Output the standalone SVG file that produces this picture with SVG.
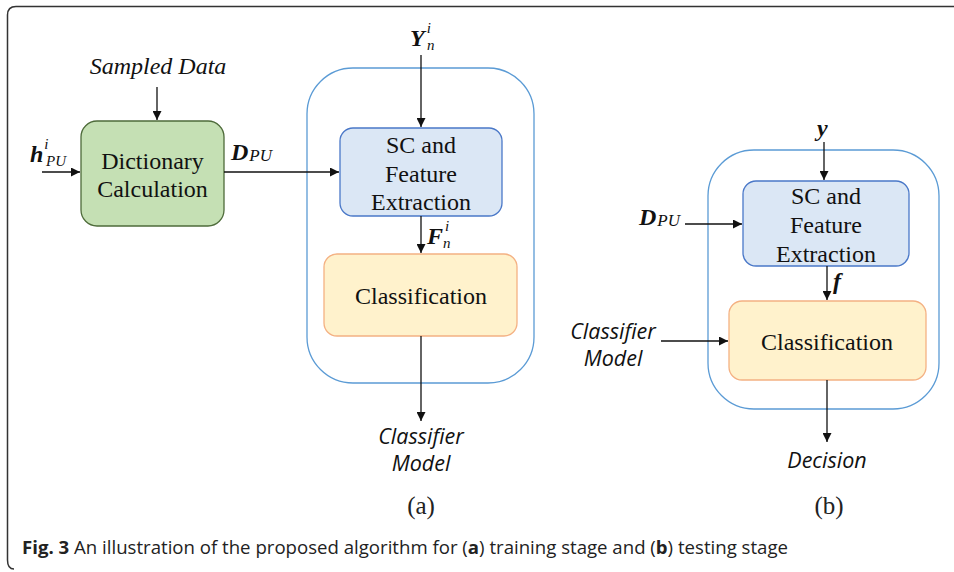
<svg xmlns="http://www.w3.org/2000/svg" width="954" height="572" viewBox="0 0 954 572">
  <style>
    .frame { fill: none; stroke: #333; stroke-width: 1.5; }
    .group { fill: none; stroke: #5b9bd5; stroke-width: 1.3; }
    .dict { fill: #c5e0b4; stroke: #4e6b3a; stroke-width: 1.3; }
    .sc { fill: #dbe7f5; stroke: #4a78c8; stroke-width: 1.3; }
    .cls { fill: #fff2cc; stroke: #f4b183; stroke-width: 1.3; }
    .box { font-family: "Liberation Serif", "Times New Roman", serif; font-size: 24px; fill: #111; text-anchor: middle; }
    .it { font-family: "Liberation Serif", "Times New Roman", serif; font-size: 24px; font-style: italic; fill: #111; text-anchor: middle; }
    .math { font-family: "Liberation Serif", "Times New Roman", serif; font-size: 24px; font-style: italic; font-weight: bold; fill: #111; }
    .s { font-size: 17px; font-weight: normal; }
    .t { font-size: 15px; font-weight: normal; }
    .lab { font-family: "Open Sans", "Liberation Sans", sans-serif; font-size: 21.5px; font-style: italic; fill: #111; text-anchor: middle; }
    .tag { font-family: "Liberation Serif", "Times New Roman", serif; font-size: 25px; fill: #222; text-anchor: middle; }
    .cap { font-family: "Open Sans", "Liberation Sans", sans-serif; font-size: 17.5px; fill: #222; }
    .conn { stroke: #111; stroke-width: 1.3; fill: none; marker-end: url(#arrow); }
  </style>
  <defs>
    <marker id="arrow" viewBox="0 0 10 10" refX="10" refY="5" markerWidth="9" markerHeight="9" markerUnits="userSpaceOnUse" orient="auto">
      <path d="M0,0 L10,5 L0,10 z" fill="#111"/>
    </marker>
  </defs>

  <!-- figure frame: top and left edges only -->
  <path class="frame" d="M954,6.5 H16 Q7.5,6.5 7.5,15 V560 Q7.5,569 14,569"/>

  <!-- (a) training stage -->
  <rect id="groupA" class="group" x="307" y="68" width="227" height="315" rx="46"/>

  <g id="dictionary">
    <rect class="dict" x="81" y="121" width="143" height="105" rx="16"/>
    <text class="box" x="152.5" y="169">Dictionary</text>
    <text class="box" x="152.5" y="197">Calculation</text>
  </g>

  <g id="scA">
    <rect class="sc" x="340" y="128" width="162" height="88" rx="13"/>
    <text class="box" x="421" y="153">SC and</text>
    <text class="box" x="421" y="182">Feature</text>
    <text class="box" x="421" y="210">Extraction</text>
  </g>

  <g id="classA">
    <rect class="cls" x="324" y="254" width="193" height="82" rx="13"/>
    <text class="box" x="421" y="304">Classification</text>
  </g>

  <!-- (b) testing stage -->
  <rect id="groupB" class="group" x="708" y="150" width="231" height="259" rx="46"/>

  <g id="scB">
    <rect class="sc" x="743" y="181" width="166" height="85" rx="13"/>
    <text class="box" x="826" y="204">SC and</text>
    <text class="box" x="826" y="233">Feature</text>
    <text class="box" x="826" y="262">Extraction</text>
  </g>

  <g id="classB">
    <rect class="cls" x="729" y="301" width="197" height="79" rx="13"/>
    <text class="box" x="827" y="350">Classification</text>
  </g>

  <!-- connectors -->
  <g id="connectors">
    <path class="conn" d="M157,87 V120"/>
    <path class="conn" d="M42,172 H80"/>
    <path class="conn" d="M224,172 H339"/>
    <path class="conn" d="M421,55 V127"/>
    <path class="conn" d="M421,216 V253"/>
    <path class="conn" d="M421,336 V421"/>
    <path class="conn" d="M824,142 V180"/>
    <path class="conn" d="M685,224 H742"/>
    <path class="conn" d="M827,266 V300"/>
    <path class="conn" d="M661,341 H728"/>
    <path class="conn" d="M827,380 V442"/>
  </g>

  <!-- labels (a) -->
  <text class="it" x="158" y="74">Sampled Data</text>
  <text class="math" x="30" y="162">h<tspan class="t" dx="1" dy="-13">i</tspan><tspan class="t" x="46" dy="17">PU</tspan></text>
  <text class="math" x="231" y="160">D<tspan class="s" dx="1" dy="1">PU</tspan></text>
  <text class="math" x="410" y="46">Y<tspan class="t" dx="2" dy="-13">i</tspan><tspan class="t" x="427" dy="17">n</tspan></text>
  <text class="math" x="427" y="244">F<tspan class="t" dx="2" dy="-13">i</tspan><tspan class="t" x="443" dy="17">n</tspan></text>
  <text class="lab" x="421" y="444">Classifier</text>
  <text class="lab" x="421" y="471">Model</text>
  <text class="tag" x="421" y="514">(a)</text>

  <!-- labels (b) -->
  <text class="math" x="817" y="136">y</text>
  <text class="math" x="639" y="225">D<tspan class="s" dx="1" dy="1">PU</tspan></text>
  <text class="math" x="833" y="289">f</text>
  <text class="lab" x="613" y="339">Classifier</text>
  <text class="lab" x="613" y="366">Model</text>
  <text class="lab" x="827" y="468">Decision</text>
  <text class="tag" x="829" y="514">(b)</text>

  <!-- caption -->
  <text class="cap" x="22" y="554" textLength="766" lengthAdjust="spacingAndGlyphs"><tspan font-weight="bold">Fig. 3</tspan>  An illustration of the proposed algorithm for (<tspan font-weight="bold">a</tspan>) training stage and (<tspan font-weight="bold">b</tspan>) testing stage</text>
</svg>
